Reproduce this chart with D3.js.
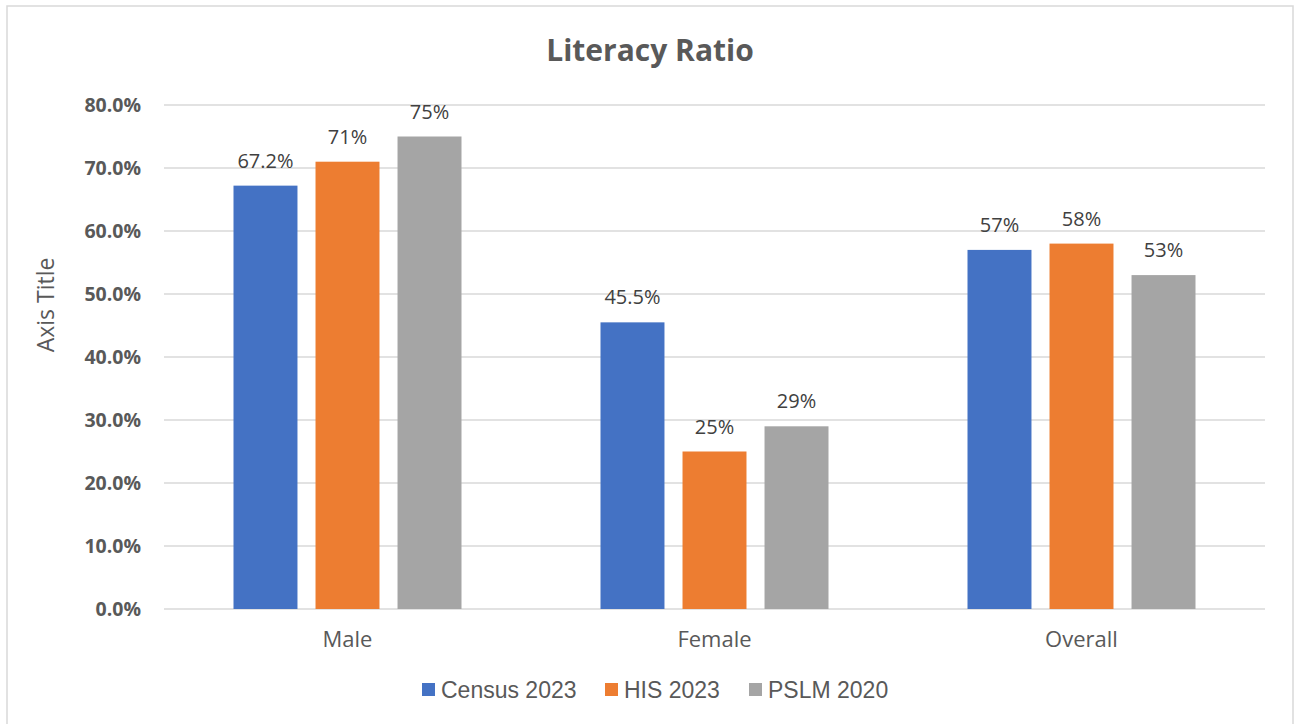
<!DOCTYPE html>
<html><head><meta charset="utf-8">
<script src="https://cdn.jsdelivr.net/npm/d3@7"></script>
<style>body{margin:0;background:#fff}svg{display:block}</style>
</head><body>
<script>
const categories = ["Male", "Female", "Overall"];
const seriesNames = ["Census 2023", "HIS 2023", "PSLM 2020"];
const census2023 = [67.2, 45.5, 57];
const his2023 = [71, 25, 58];
const pslm2020 = [75, 29, 53];
const labelsCensus = ["67.2%", "45.5%", "57%"];
const labelsHIS = ["71%", "25%", "58%"];
const labelsPSLM = ["75%", "29%", "53%"];
const yTicks = [0, 10, 20, 30, 40, 50, 60, 70, 80];
const colors = ["#4472C4", "#ED7D31", "#A5A5A5"];

const seriesVals = [census2023, his2023, pslm2020];
const seriesLabels = [labelsCensus, labelsHIS, labelsPSLM];

const W = 1301, H = 724;
const svg = d3.select("body").append("svg").attr("width", W).attr("height", H);
svg.append("rect").attr("x", 7).attr("y", 6).attr("width", 1286).attr("height", 730)
  .attr("fill", "#fff").attr("stroke", "#d9d9d9").attr("stroke-width", 1.5);

const x0 = 164, x1 = 1265, yTop = 105, yBot = 609;
const y = d3.scaleLinear().domain([0, 80]).range([yBot, yTop]);
const xb = d3.scaleBand().domain(categories).range([x0, x1]).paddingInner(0).paddingOuter(0);
const xs = d3.scaleBand().domain(d3.range(3)).range([0, 228]).paddingInner(0.22).paddingOuter(0);

svg.append("text").attr("x", 650).attr("y", 61).attr("text-anchor", "middle")
  .attr("font-family", "Open Sans, Liberation Sans, sans-serif").attr("font-weight", "bold")
  .attr("font-size", 30).attr("fill", "#595959").text("Literacy Ratio");

// grid
svg.append("g").selectAll("line").data(yTicks).join("line")
  .attr("x1", x0).attr("x2", x1).attr("y1", d => y(d)).attr("y2", d => y(d))
  .attr("stroke", "#d9d9d9").attr("stroke-width", 1.5);

// y axis
const yAxis = d3.axisLeft(y).tickValues(yTicks).tickSize(0).tickPadding(0)
  .tickFormat(d => d.toFixed(1) + "%");
const ga = svg.append("g").attr("transform", `translate(${141},0)`).call(yAxis);
ga.select(".domain").remove();
ga.selectAll("text").attr("font-family", "Open Sans, Liberation Sans, sans-serif")
  .attr("font-weight", "bold").attr("font-size", 19.5).attr("fill", "#595959").attr("dy", "0.35em");

svg.append("text").attr("transform", "translate(54,305) rotate(-90)").attr("text-anchor", "middle")
  .attr("font-family", "Open Sans, Liberation Sans, sans-serif").attr("font-size", 23)
  .attr("fill", "#595959").text("Axis Title");

// bars
const groups = svg.append("g").selectAll("g").data(categories).join("g")
  .attr("transform", d => `translate(${xb(d) + (xb.bandwidth() - 228) / 2},0)`);
groups.each(function(cat, ci) {
  const g = d3.select(this);
  seriesVals.forEach((vals, si) => {
    g.append("rect").attr("x", xs(si)).attr("width", xs.bandwidth())
      .attr("y", y(vals[ci])).attr("height", y(0) - y(vals[ci])).attr("fill", colors[si]);
    g.append("text").attr("x", xs(si) + xs.bandwidth() / 2).attr("y", y(vals[ci]) - 18)
      .attr("text-anchor", "middle").attr("font-family", "Open Sans, Liberation Sans, sans-serif")
      .attr("font-size", 20).attr("fill", "#404040").text(seriesLabels[si][ci]);
  });
});

// x axis labels
const xAxis = d3.axisBottom(xb).tickSize(0).tickPadding(0);
const gx = svg.append("g").attr("transform", `translate(0,${yBot})`).call(xAxis);
gx.select(".domain").remove();
gx.selectAll("text").attr("y", 38).attr("dy", 0).attr("font-family", "Open Sans, Liberation Sans, sans-serif")
  .attr("font-size", 22).attr("fill", "#595959");

// legend
const legX = [422, 605, 749];
const leg = svg.append("g").selectAll("g").data(seriesNames).join("g")
  .attr("transform", (d, i) => `translate(${legX[i]},683)`);
leg.append("rect").attr("width", 13).attr("height", 13).attr("fill", (d, i) => colors[i]);
leg.append("text").attr("x", 19).attr("y", 14.5).attr("font-family", "Liberation Sans, Arial, sans-serif")
  .attr("font-size", 23).attr("fill", "#595959").text(d => d);
</script>
</body></html>
